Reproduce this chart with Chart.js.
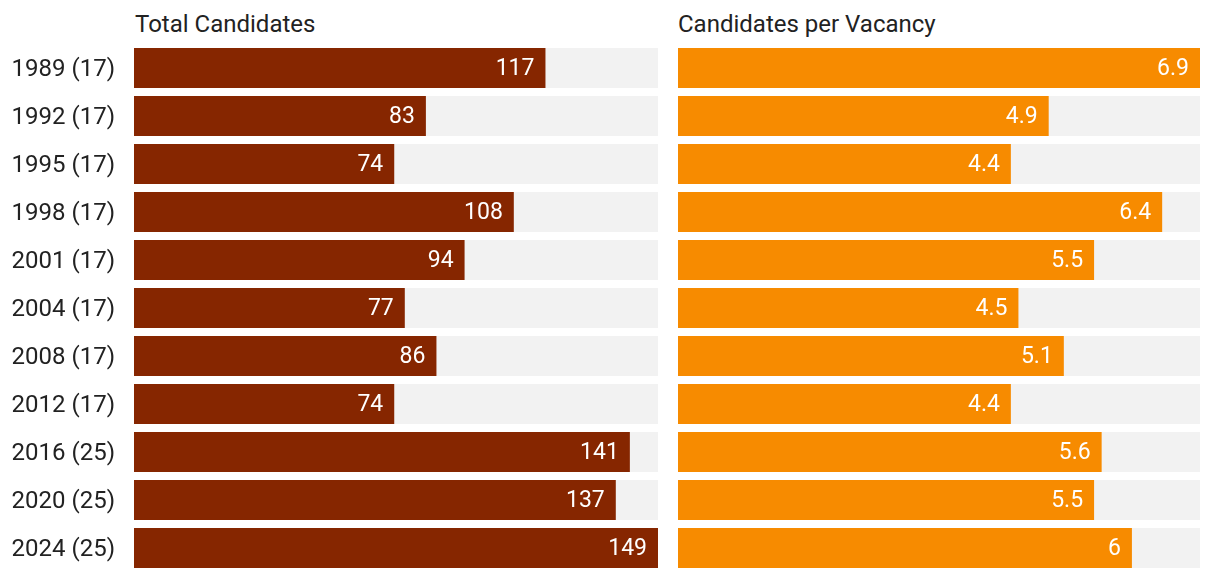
<!DOCTYPE html>
<html>
<head>
<meta charset="utf-8">
<script src="https://cdn.jsdelivr.net/npm/chart.js@4"></script>
<style>
  body { margin: 0; background: #fff; font-family: Roboto, sans-serif; }
  #wrap { position: relative; width: 1220px; height: 578px; }
  .title { position: absolute; top: 10px; font-size: 24px; line-height: 28px; color: #222; }
  #c1 { position: absolute; left: 0; top: 0; }
  #c2 { position: absolute; left: 660px; top: 0; }
</style>
</head>
<body>
<div id="wrap">
  <div class="title" style="left:135px">Total Candidates</div>
  <div class="title" style="left:678px">Candidates per Vacancy</div>
  <canvas id="c1" width="660" height="578"></canvas>
  <canvas id="c2" width="560" height="578"></canvas>
</div>
<script>
const years = ["1989 (17)", "1992 (17)", "1995 (17)", "1998 (17)", "2001 (17)", "2004 (17)",
  "2008 (17)", "2012 (17)", "2016 (25)", "2020 (25)", "2024 (25)"];
const totalCandidates = [117, 83, 74, 108, 94, 77, 86, 74, 141, 137, 149];
const perVacancy = [6.9, 4.9, 4.4, 6.4, 5.5, 4.5, 5.1, 4.4, 5.6, 5.5, 6];
const totalMax = 149;
const vacancyMax = 6.9;

// writes the value inside the end of each bar
const valueLabels = {
  id: "valueLabels",
  afterDatasetsDraw(chart) {
    const ctx = chart.ctx;
    const meta = chart.getDatasetMeta(0);
    ctx.save();
    ctx.fillStyle = "#fff";
    ctx.font = "23px Roboto";
    ctx.textAlign = "right";
    ctx.textBaseline = "middle";
    meta.data.forEach((bar, i) => {
      ctx.fillText(String(chart.data.datasets[0].data[i]), bar.x - 11, bar.y + 1);
    });
    ctx.restore();
  }
};

function makeChart(id, values, max, color, showLabels, padding) {
  return new Chart(document.getElementById(id), {
    type: "bar",
    data: {
      labels: years,
      datasets: [
        { data: values, backgroundColor: color },
        { data: years.map(() => max), backgroundColor: "#f2f2f2" }
      ]
    },
    options: {
      indexAxis: "y",
      responsive: false,
      animation: false,
      layout: { padding: padding },
      datasets: { bar: { grouped: false, barPercentage: 1, categoryPercentage: 40 / 48 } },
      plugins: { legend: { display: false }, tooltip: { enabled: false } },
      scales: {
        x: { display: false, min: 0, max: max },
        y: {
          display: showLabels,
          border: { display: false },
          grid: { display: false, drawTicks: false },
          ticks: { color: "#222", font: { family: "Roboto", size: 24 }, padding: 19, autoSkip: false, labelOffset: 2 },
          afterFit(scale) {
            if (!showLabels) return;
            scale.width = 134;
            scale.paddingTop = 0;
            scale.paddingBottom = 0;
          }
        }
      }
    },
    plugins: [valueLabels]
  });
}

makeChart("c1", totalCandidates, totalMax, "#862600", true, { top: 44, bottom: 6, left: 0, right: 2 });
makeChart("c2", perVacancy, vacancyMax, "#f78b00", false, { top: 44, bottom: 6, left: 18, right: 20 });
</script>
</body>
</html>
